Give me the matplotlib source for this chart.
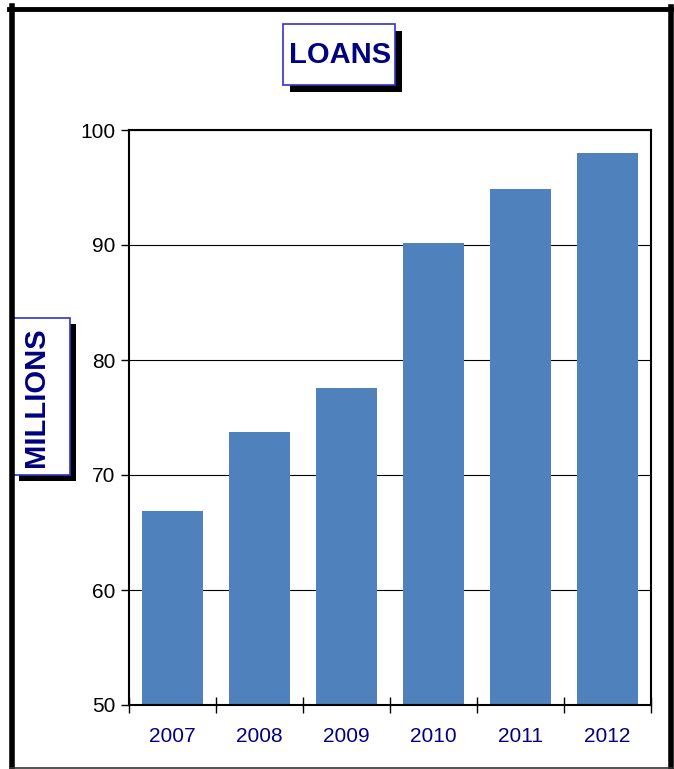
import matplotlib
matplotlib.use("Agg")
import matplotlib.pyplot as plt
from matplotlib.patches import Rectangle
from matplotlib.lines import Line2D
import numpy as np

years = ["2007", "2008", "2009", "2010", "2011", "2012"]
loans = [66.9, 73.7, 77.6, 90.2, 94.9, 98.0]
y_ticks = [50, 60, 70, 80, 90, 100]

W, H = 674, 769
BAR = "#4F81BD"
NAVY = "#000080"
FONT = "Liberation Sans"

fig = plt.figure(figsize=(W / 100, H / 100), dpi=100)


def fx(px):
    return px / W


def fy(py):
    return 1 - py / H


# plot area
ax = fig.add_axes([fx(129), fy(705), (651 - 129) / W, (705 - 130) / H])
x = np.arange(len(years))
ax.bar(x, loans, width=0.70, color=BAR, zorder=3)
ax.set_xlim(-0.5, len(years) - 0.5)
ax.set_ylim(50, 100)
ax.set_yticks(y_ticks)
ax.set_yticklabels([str(v) for v in y_ticks], fontsize=15, family=FONT)
ax.yaxis.grid(True, color="black", linewidth=0.8, zorder=1)
ax.set_xticks(np.arange(len(years) + 1) - 0.5)
ax.set_xticklabels([])
ax.set_xticks(x, minor=True)
ax.set_xticklabels(years, minor=True, fontsize=15, family=FONT, color=NAVY)
ax.tick_params(axis="x", which="major", direction="inout", length=12, width=1)
ax.tick_params(axis="x", which="minor", length=0, pad=16)
ax.tick_params(axis="y", direction="out", length=6, width=1, pad=4)
for s in ax.spines.values():
    s.set_color("black")
    s.set_linewidth(1.5)
    s.set_zorder(4)


def shadow_box(x0, y0, x1, y1, off):
    fig.add_artist(Rectangle((fx(x0 + off), fy(y1 + off)), (x1 - x0) / W, (y1 - y0) / H,
                             transform=fig.transFigure, facecolor="black",
                             edgecolor="none", zorder=5))
    fig.add_artist(Rectangle((fx(x0), fy(y1)), (x1 - x0) / W, (y1 - y0) / H,
                             transform=fig.transFigure, facecolor="white",
                             edgecolor="#3333CC", linewidth=1.2, zorder=6))


# title box
shadow_box(283, 24, 395, 85, 7)
fig.text(fx(340), fy(55), "LOANS", ha="center", va="center", fontsize=21,
         fontweight="bold", color=NAVY, family=FONT, zorder=7)

# y-axis label box
shadow_box(13, 318, 70, 475, 6)
fig.text(fx(36), fy(397), "MILLIONS", ha="center", va="center", rotation=90,
         fontsize=21, fontweight="bold", color=NAVY, family=FONT, zorder=7)

# outer frame
fig.add_artist(Line2D([fx(11.5), fx(11.5)], [fy(6), fy(769)], transform=fig.transFigure,
                      color="black", linewidth=4, zorder=8))
fig.add_artist(Line2D([fx(9), fx(674)], [fy(8.5), fy(8.5)], transform=fig.transFigure,
                      color="black", linewidth=3.5, zorder=8))
fig.add_artist(Line2D([fx(671), fx(671)], [fy(7), fy(769)], transform=fig.transFigure,
                      color="black", linewidth=4, zorder=8))
fig.add_artist(Line2D([fx(10), fx(674)], [fy(767.5), fy(767.5)], transform=fig.transFigure,
                      color="#333333", linewidth=1.2, zorder=8))

fig.savefig("out.png", dpi=100)
